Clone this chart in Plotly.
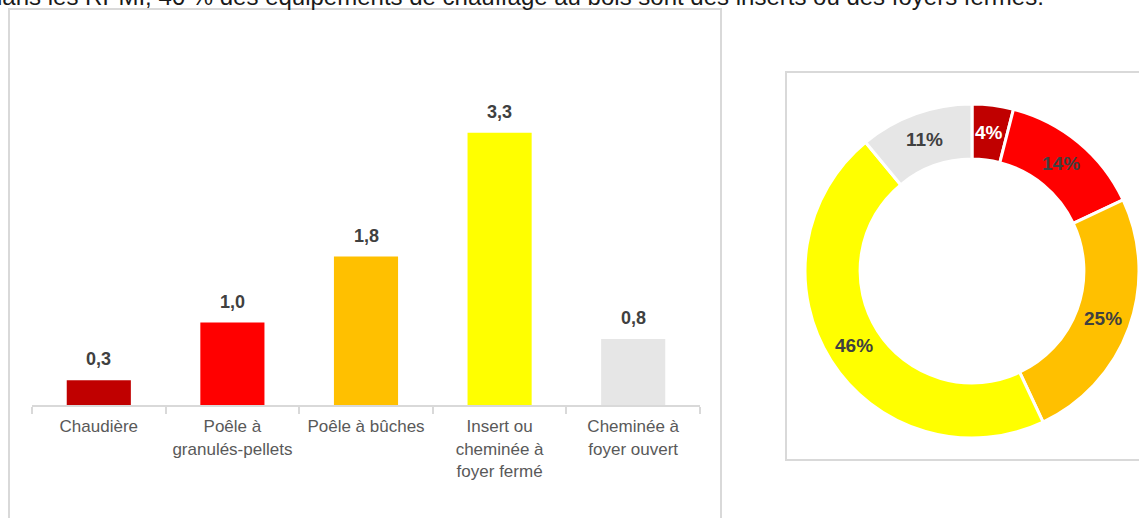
import math
import plotly.graph_objects as go

# Canvas
W, H = 1139, 518

# Bar chart data (millions of appliances)
categories = ["Chaudière", "Poêle à<br>granulés-pellets", "Poêle à bûches",
              "Insert ou<br>cheminée à<br>foyer fermé", "Cheminée à<br>foyer ouvert"]
values = [0.3, 1.0, 1.8, 3.3, 0.8]
value_labels = ["0,3", "1,0", "1,8", "3,3", "0,8"]
colors = ["#C00000", "#FF0000", "#FFC000", "#FFFF00", "#E6E6E6"]

# Donut data (share of appliances, %)
shares = [4, 14, 25, 46, 11]
share_labels = ["4%", "14%", "25%", "46%", "11%"]
share_text_colors = ["#FFFFFF", "#404040", "#404040", "#404040", "#404040"]

headline = "dans les RPMI, 46 % des équipements de chauffage au bois sont des inserts ou des foyers fermés."

FONT = "Liberation Sans, Arial, sans-serif"
GRID = "#D9D9D9"


def px_x(x):
    return x / W


def px_y(y):
    return 1 - y / H


fig = go.Figure()

fig.add_trace(go.Bar(
    x=categories, y=values,
    marker=dict(color=colors, line=dict(width=0)),
    hoverinfo="skip", showlegend=False,
    xaxis="x", yaxis="y",
))

# Donut, clockwise from 12 o'clock
pie_x0, pie_x1 = 805, W
pie_y0, pie_y1 = 103, 439
hole = 0.67
fig.add_trace(go.Pie(
    values=shares, labels=share_labels, sort=False, direction="clockwise",
    rotation=0, hole=hole,
    marker=dict(colors=colors, line=dict(color="white", width=3)),
    textinfo="none", hoverinfo="skip", showlegend=False,
    domain=dict(x=[px_x(pie_x0), 1], y=[px_y(pie_y1), px_y(pie_y0)]),
))

annotations = []

# Value labels above bars
for cat, v, lab in zip(categories, values, value_labels):
    annotations.append(dict(
        x=cat, y=v, xref="x", yref="y", text=lab, showarrow=False,
        yanchor="middle", yshift=21,
        font=dict(family=FONT, size=18, color="#404040", weight="bold"),
    ))

# Percent labels placed at the middle of the ring, at each slice's mid-angle
cx = (pie_x0 + pie_x1) / 2
cy = (pie_y0 + pie_y1) / 2
r_out = min(pie_x1 - pie_x0, pie_y1 - pie_y0) / 2
r_mid = r_out * (1 + hole) / 2
total = sum(shares)
cum = 0
for s, lab, col in zip(shares, share_labels, share_text_colors):
    ang = 2 * math.pi * (cum + s / 2) / total
    cum += s
    lx = cx + r_mid * math.sin(ang)
    ly = cy - r_mid * math.cos(ang)
    annotations.append(dict(
        x=px_x(lx), y=px_y(ly), xref="paper", yref="paper", text=lab,
        showarrow=False, xanchor="center", yanchor="middle",
        font=dict(family=FONT, size=19, color=col, weight="bold"),
    ))

# Headline running off the top of the page
annotations.append(dict(
    x=px_x(-13), y=px_y(12), xref="paper", yref="paper", text=headline,
    showarrow=False, xanchor="left", yanchor="bottom",
    font=dict(family=FONT, size=24, color="#1A1A1A"),
))

shapes = [
    # frame around the bar chart
    dict(type="rect", xref="paper", yref="paper",
         x0=px_x(9), x1=px_x(721), y0=-0.1, y1=px_y(9),
         line=dict(color=GRID, width=2), fillcolor="rgba(0,0,0,0)", layer="below"),
    # frame around the donut
    dict(type="rect", xref="paper", yref="paper",
         x0=px_x(786), x1=1.1, y0=px_y(460), y1=px_y(72),
         line=dict(color=GRID, width=2), fillcolor="rgba(0,0,0,0)", layer="below"),
]

fig.update_layout(
    width=W, height=H,
    margin=dict(l=0, r=0, t=0, b=0),
    paper_bgcolor="white", plot_bgcolor="white",
    bargap=0.52,
    xaxis=dict(
        domain=[px_x(32), px_x(700)],
        showgrid=False, zeroline=False,
        showline=True, linecolor=GRID, linewidth=2,
        ticks="outside", tickson="boundaries", ticklen=7, tickcolor=GRID, tickwidth=2,
        ticklabelstandoff=5,
        tickfont=dict(family=FONT, size=17, color="#595959"),
        fixedrange=True,
    ),
    yaxis=dict(
        domain=[px_y(405), px_y(75)], range=[0, 4],
        visible=False, showgrid=False, zeroline=False, fixedrange=True,
    ),
    annotations=annotations,
    shapes=shapes,
)

fig.write_html("out.html")
